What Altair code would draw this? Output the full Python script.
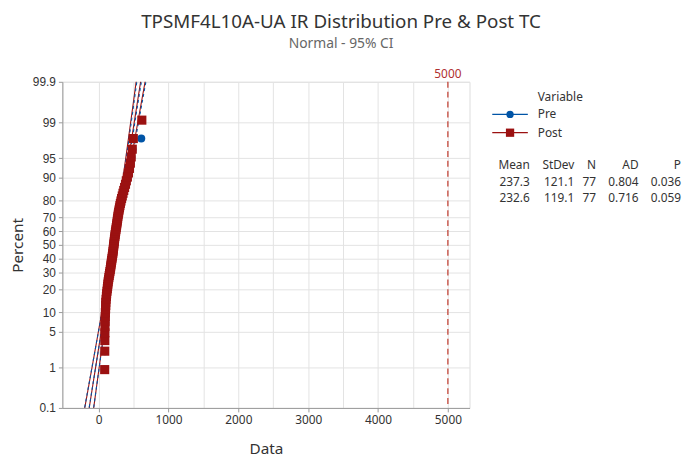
import altair as alt
import pandas as pd
from statistics import NormalDist

FONT = "Noto Sans"

# ---- summary statistics (from the legend table) ----
series_names = ["Pre", "Post"]
series_colors = ["#0054A6", "#9B1111"]
series_shapes = ["circle", "square"]
means = [237.3, 232.6]
stdevs = [121.1, 119.1]
counts = [77, 77]
ad_values = [0.804, 0.716]
p_values = [0.036, 0.059]

pre_values = [88, 89, 90, 91, 93, 95, 97, 99, 102, 105,
              104, 109, 114, 117, 122, 127, 131, 135, 139, 144,
              149, 154, 159, 164, 169, 173, 177, 181, 185, 189,
              193, 197, 201, 205, 208, 211, 214, 217, 220,
              223, 226, 229, 232, 236, 239, 243, 247, 251, 255,
              259, 263, 267, 271, 275, 279, 284, 289, 295, 301,
              307, 314, 322, 331, 341, 351, 362, 374, 387, 399,
              414, 429, 444, 457, 469, 484, 610, 620]
post_values = [86, 87, 88, 89, 90, 92, 94, 96, 99, 102,
               101, 106, 111, 114, 119, 124, 128, 132, 136, 141,
               146, 151, 156, 161, 166, 170, 174, 178, 182, 186,
               190, 194, 198, 202, 205, 208, 211, 214, 217,
               220, 223, 226, 229, 233, 236, 240, 244, 248, 252,
               256, 260, 264, 268, 272, 276, 281, 286, 292, 298,
               304, 311, 319, 328, 338, 348, 359, 371, 384, 396,
               411, 426, 441, 454, 466, 481, 496, 618]

# ---- axes ----
x_tick_values = [0, 500, 1000, 1500, 2000, 2500, 3000, 3500, 4000, 4500, 5000]
y_tick_percents = [0.1, 1, 5, 10, 20, 30, 40, 50, 60, 70, 80, 90, 95, 99, 99.9]
reference_values = [5000]

nd = NormalDist()
y_tick_z = [nd.inv_cdf(p / 100.0) for p in y_tick_percents]

points_df = pd.DataFrame({
    "Variable": ["Pre"] * len(pre_values) + ["Post"] * len(post_values),
    "Data": pre_values + post_values,
})
ref_df = pd.DataFrame({"value": reference_values})

x_scale = alt.Scale(domain=[-520, 5310], nice=False, zero=False)
y_scale = alt.Scale(domain=[y_tick_z[0], y_tick_z[-1]], nice=False, zero=False)

x_axis = alt.Axis(
    values=x_tick_values, format="d", title="Data",
    labelExpr="datum.value % 1000 === 0 ? datum.label : ''",
    tickOpacity={"condition": {"test": "datum.value % 1000 === 0", "value": 1}, "value": 0},
    grid=True, gridColor="#E3E3E3", domainColor="#9A9A9A", tickColor="#9A9A9A",
    tickSize=4, labelFontSize=12, labelColor="#333333", labelFont=FONT,
    titleFont=FONT, titleFontSize=15.5, titleFontWeight="normal", titleColor="#333333",
    titlePadding=16, labelPadding=3,
)
y_axis = alt.Axis(
    values=y_tick_z, title="Percent",
    labelExpr="format(cumulativeNormal(datum.value) * 100, '.1~f')",
    grid=True, gridColor="#E3E3E3", domainColor="#9A9A9A", tickColor="#9A9A9A",
    tickSize=4, labelFontSize=12, labelColor="#333333", labelFont="Liberation Sans",
    titleFont=FONT, titleFontSize=15.5, titleFontWeight="normal", titleColor="#333333",
    titlePadding=7, labelPadding=3,
)


def fit_layer(i, dash=None):
    m, s, n = means[i], stdevs[i], counts[i]
    mark_kwargs = dict(clip=True, strokeWidth=1.1, color=series_colors[i])
    if dash:
        mark_kwargs["strokeDash"] = dash
    return (
        alt.Chart(alt.sequence(-3.3, 3.31, 0.02, as_="z"))
        .transform_calculate(
            fit=f"{m} + {s} * datum.z",
            half=f"1.959964 * {s} * sqrt(1 / {n} + datum.z * datum.z / (2 * {n}))",
        )
        .transform_calculate(lower="datum.fit - datum.half", upper="datum.fit + datum.half")
        .transform_fold(["fit", "lower", "upper"], as_=["curve", "xv"])
        .mark_line(**mark_kwargs)
        .encode(
            x=alt.X("xv:Q", scale=x_scale, axis=x_axis),
            y=alt.Y("z:Q", scale=y_scale, axis=y_axis),
            detail="curve:N",
            order="z:Q",
        )
    )


def point_layer(i):
    return (
        alt.Chart(points_df)
        .transform_filter(alt.datum.Variable == series_names[i])
        .transform_window(rank="row_number()", sort=[alt.SortField("Data")])
        .transform_joinaggregate(n="count()")
        .transform_calculate(z="quantileNormal((datum.rank - 0.3) / (datum.n + 0.4))")
        .mark_point(filled=True, shape=series_shapes[i], size=65 if i == 0 else 85,
                    opacity=1, color=series_colors[i])
        .encode(
            x=alt.X("Data:Q", scale=x_scale, axis=x_axis),
            y=alt.Y("z:Q", scale=y_scale, axis=y_axis),
        )
    )


ref_rule = alt.Chart(ref_df).mark_rule(color="#C0392B", strokeDash=[6, 4], strokeWidth=1.2).encode(
    x=alt.X("value:Q", scale=x_scale, axis=x_axis)
)
ref_text = alt.Chart(ref_df).mark_text(
    color="#B03030", baseline="bottom", align="center", fontSize=12, font=FONT, dy=-1
).encode(
    x=alt.X("value:Q", scale=x_scale, axis=x_axis),
    y=alt.value(0),
    text=alt.Text("value:Q", format="d"),
)


def text_at(txt, x, y, align="left", size=12, color="#333333"):
    return alt.Chart(alt.Data(values=[{}])).mark_text(
        text=txt, align=align, baseline="middle", fontSize=size, font=FONT, color=color
    ).encode(x=alt.value(x), y=alt.value(y))


legend_layers = [text_at("Variable", 481, 15)]
for i, name in enumerate(series_names):
    ly = 33 + i * 18.5
    legend_layers.append(
        alt.Chart(alt.Data(values=[{}])).mark_rule(color=series_colors[i], strokeWidth=1.3)
        .encode(x=alt.value(435), x2=alt.value(471), y=alt.value(ly))
    )
    legend_layers.append(
        alt.Chart(alt.Data(values=[{}])).mark_point(
            filled=True, shape=series_shapes[i], size=55 if i == 0 else 70,
            opacity=1, color=series_colors[i])
        .encode(x=alt.value(453), y=alt.value(ly))
    )
    legend_layers.append(text_at(name, 481, ly))

table_headers = ["Mean", "StDev", "N", "AD", "P"]
col_right = [473, 518, 540, 583, 626]
for h, cx in zip(table_headers, col_right):
    legend_layers.append(text_at(h, cx, 84, align="right"))
for i in range(len(series_names)):
    row = [f"{means[i]:.1f}", f"{stdevs[i]:.1f}", f"{counts[i]}",
           f"{ad_values[i]:.3f}", f"{p_values[i]:.3f}"]
    for t, cx in zip(row, col_right):
        legend_layers.append(text_at(t, cx, 101 + i * 17, align="right"))

chart = alt.layer(
    fit_layer(1), fit_layer(0, dash=[3, 3]), ref_rule, point_layer(0), point_layer(1), ref_text,
    *legend_layers,
).properties(
    width=412,
    height=330,
    title=alt.TitleParams(
        text="TPSMF4L10A-UA IR Distribution Pre & Post TC",
        subtitle="Normal - 95% CI",
        anchor="middle", dx=76, offset=17,
        font=FONT, fontSize=19, fontWeight="normal", color="#333333",
        subtitleFont=FONT, subtitleFontSize=14, subtitleColor="#666666", subtitlePadding=5,
    ),
    autosize=alt.AutoSizeParams(type="none"),
    padding={"left": 55, "top": 72, "right": 216, "bottom": 50},
).configure_view(stroke="#9A9A9A", strokeWidth=1).configure(background="white")

chart.save("out.html", embed_options={"renderer": "svg", "actions": False})
